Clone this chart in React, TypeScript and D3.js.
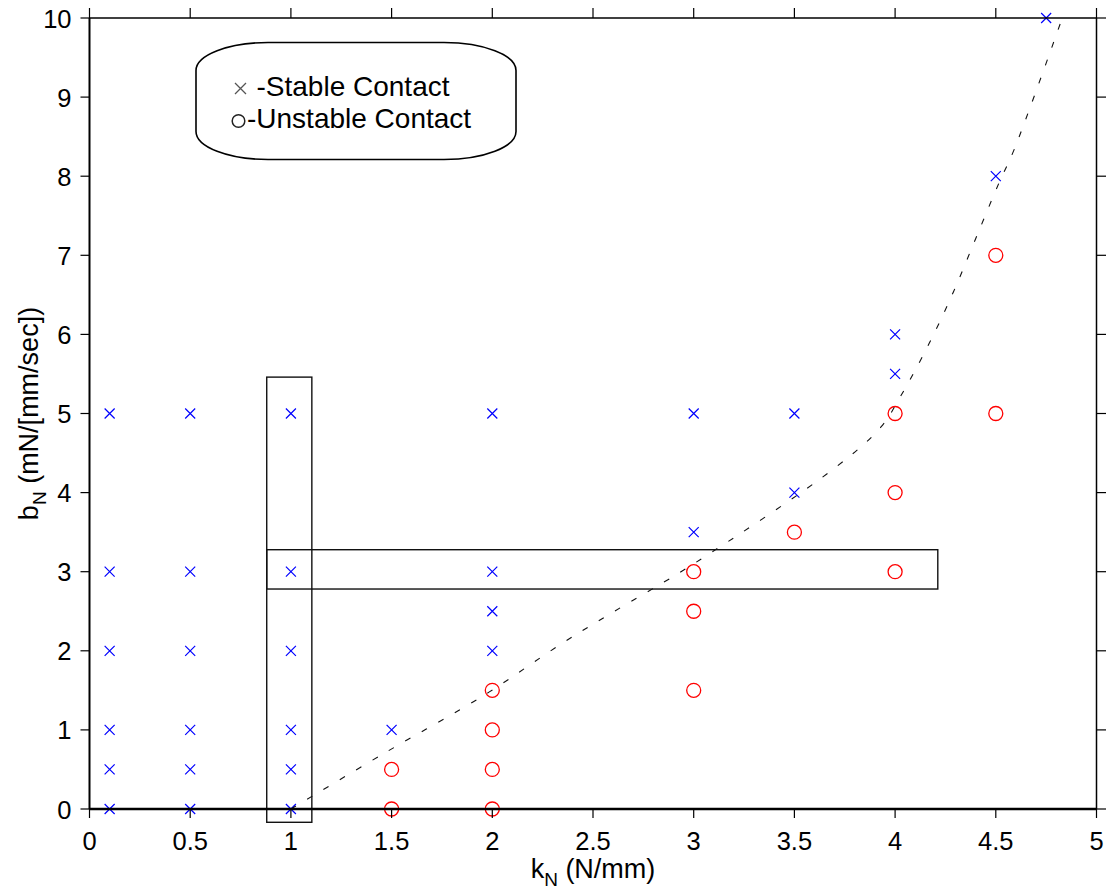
import React from "react";
import * as d3 from "d3";

const xTicks = [0, 0.5, 1, 1.5, 2, 2.5, 3, 3.5, 4, 4.5, 5];
const xTickLabels = ["0", "0.5", "1", "1.5", "2", "2.5", "3", "3.5", "4", "4.5", "5"];
const yTicks = [0, 1, 2, 3, 4, 5, 6, 7, 8, 9, 10];
const yTickLabels = ["0", "1", "2", "3", "4", "5", "6", "7", "8", "9", "10"];

const stableK = [0.1, 0.1, 0.1, 0.1, 0.1, 0.1, 0.5, 0.5, 0.5, 0.5, 0.5, 0.5, 1, 1, 1, 1, 1, 1, 1.5, 2, 2, 2, 2, 3, 3, 3.5, 3.5, 4, 4, 4.5, 4.75];
const stableB = [0, 0.5, 1, 2, 3, 5, 0, 0.5, 1, 2, 3, 5, 0, 0.5, 1, 2, 3, 5, 1, 2, 2.5, 3, 5, 3.5, 5, 4, 5, 5.5, 6, 8, 10];

const unstableK = [1.5, 1.5, 2, 2, 2, 2, 3, 3, 3, 3.5, 4, 4, 4, 4.5, 4.5];
const unstableB = [0, 0.5, 0, 0.5, 1, 1.5, 1.5, 2.5, 3, 3.5, 3, 4, 5, 5, 7];

const boundaryK = [1, 1.46, 1.96, 2.35, 2.6, 3.0, 3.71, 3.93, 4.03, 4.17, 4.29, 4.4, 4.515, 4.59, 4.83];
const boundaryB = [0, 0.7, 1.44, 2.1, 2.49, 3.1, 4.33, 4.83, 5.23, 5.89, 6.54, 7.21, 7.91, 8.33, 10];

// highlight boxes: [kMin, kMax, bMin, bMax]
const boxVertical = [0.88, 1.104, -0.168, 5.46];
const boxHorizontal = [0.88, 4.212, 2.781, 3.278];

const legendLabels = ["-Stable Contact", "-Unstable Contact"];
const xLabelMain = "k";
const xLabelSub = "N";
const xLabelRest = " (N/mm)";
const yLabelMain = "b";
const yLabelSub = "N";
const yLabelRest = " (mN/[mm/sec])";

const FONT = "'Liberation Sans', Arial, Helvetica, sans-serif";

export default function App() {
  const W = 1106;
  const H = 890;
  const x = d3.scaleLinear().domain([0, 5]).range([89.5, 1096.5]);
  const y = d3.scaleLinear().domain([0, 10]).range([809, 18]);
  const [x0, x1] = x.range();
  const [y0, y1] = y.range(); // y0 bottom, y1 top

  const line = d3
    .line<number>()
    .x((_, i) => x(boundaryK[i]))
    .y((_, i) => y(boundaryB[i]))
    .curve(d3.curveCatmullRom.alpha(0.5));

  const boxPath = (b: number[]) => ({
    x: x(b[0]),
    y: y(b[3]),
    w: x(b[1]) - x(b[0]),
    h: y(b[2]) - y(b[3]),
  });
  const bv = boxPath(boxVertical);
  const bh = boxPath(boxHorizontal);

  const cross = (cx: number, cy: number, s: number) =>
    `M${cx - s},${cy - s}L${cx + s},${cy + s}M${cx - s},${cy + s}L${cx + s},${cy - s}`;

  return (
    <svg
      width={W}
      height={H}
      style={{ position: "absolute", left: 0, top: 0, background: "#fff" }}
      fontFamily={FONT}
    >
      <rect x={0} y={0} width={W} height={H} fill="#fff" />

      {/* highlight boxes */}
      <rect x={bv.x} y={bv.y} width={bv.w} height={bv.h} fill="none" stroke="#111" strokeWidth={1.4} />
      <rect x={bh.x} y={bh.y} width={bh.w} height={bh.h} fill="none" stroke="#111" strokeWidth={1.4} />

      {/* markers */}
      {stableK.map((k, i) => (
        <path
          key={"s" + i}
          d={cross(x(k), y(stableB[i]), 5)}
          stroke="#0000ff"
          strokeWidth={1.2}
          fill="none"
        />
      ))}
      {unstableK.map((k, i) => (
        <circle
          key={"u" + i}
          cx={x(k)}
          cy={y(unstableB[i])}
          r={7}
          stroke="#ff0000"
          strokeWidth={1.3}
          fill="none"
        />
      ))}

      {/* boundary curve */}
      <path
        d={line(boundaryK) || ""}
        fill="none"
        stroke="#111"
        strokeWidth={1.1}
        strokeDasharray="6,13"
      />

      {/* axes box */}
      <line x1={x0} y1={y1} x2={x1} y2={y1} stroke="#000" strokeWidth={1.5} />
      <line x1={x1} y1={y1} x2={x1} y2={y0} stroke="#000" strokeWidth={1.5} />
      <line x1={x0} y1={y1} x2={x0} y2={y0} stroke="#000" strokeWidth={2} />
      <line x1={x0} y1={y0} x2={x1} y2={y0} stroke="#000" strokeWidth={2.5} />

      {/* ticks */}
      {xTicks.map((t, i) => (
        <g key={"xt" + i}>
          <line x1={x(t)} x2={x(t)} y1={y0} y2={y0 + 9} stroke="#000" strokeWidth={1.2} />
          <line x1={x(t)} x2={x(t)} y1={y1} y2={y1 - 10} stroke="#000" strokeWidth={1.2} />
          <text
            x={x(t)}
            y={y0 + 41}
            textAnchor="middle"
            fontSize={25.5}
            fill="#000"
          >
            {xTickLabels[i]}
          </text>
        </g>
      ))}
      {yTicks.map((t, i) => (
        <g key={"yt" + i}>
          <line x1={x0} x2={x0 - 9} y1={y(t)} y2={y(t)} stroke="#000" strokeWidth={1.2} />
          <line x1={x1} x2={x1 + 10} y1={y(t)} y2={y(t)} stroke="#000" strokeWidth={1.2} />
          <text
            x={x0 - 18}
            y={y(t) + 9.5}
            textAnchor="end"
            fontSize={25.5}
            fill="#000"
          >
            {yTickLabels[i]}
          </text>
        </g>
      ))}

      {/* axis labels */}
      <text x={(x0 + x1) / 2} y={878} textAnchor="middle" fontSize={27} fill="#000">
        {xLabelMain}
        <tspan fontSize={19} dy={8}>{xLabelSub}</tspan>
        <tspan dy={-8}>{xLabelRest}</tspan>
      </text>
      <text
        transform={`translate(38,${(y0 + y1) / 2}) rotate(-90)`}
        textAnchor="middle"
        fontSize={27}
        fill="#000"
      >
        {yLabelMain}
        <tspan fontSize={19} dy={8}>{yLabelSub}</tspan>
        <tspan dy={-8}>{yLabelRest}</tspan>
      </text>

      {/* legend */}
      <rect
        x={196}
        y={42.5}
        width={320}
        height={117}
        rx={72}
        ry={28}
        fill="#fff"
        stroke="#000"
        strokeWidth={1.6}
      />
      <path d={cross(240.5, 88.5, 5.5)} stroke="#555" strokeWidth={1.3} fill="none" />
      <circle cx={238.5} cy={121} r={6.3} stroke="#222" strokeWidth={1.5} fill="none" />
      <text x={256.5} y={96} fontSize={28} fill="#000">
        {legendLabels[0]}
      </text>
      <text x={247} y={128} fontSize={28} fill="#000">
        {legendLabels[1]}
      </text>
    </svg>
  );
}
